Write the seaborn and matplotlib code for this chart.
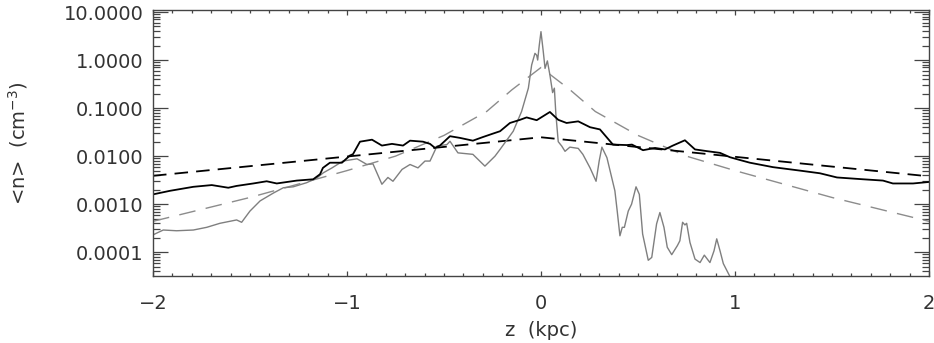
import matplotlib
matplotlib.use('Agg')
import matplotlib.pyplot as plt
import matplotlib.ticker as mticker
import seaborn as sns

# profile data: z in kpc, n in cm^-3
z_black = [-2.0, -1.912, -1.792, -1.697, -1.612, -1.569, -1.483, -1.414, -1.362, -1.259,
           -1.174, -1.139, -1.124, -1.088, -1.026, -0.985, -0.969, -0.933, -0.871, -0.82,
           -0.768, -0.711, -0.675, -0.608, -0.572, -0.546, -0.521, -0.469, -0.418, -0.351,
           -0.299, -0.247, -0.211, -0.16, -0.108, -0.074, -0.022, 0.046, 0.089, 0.132,
           0.192, 0.253, 0.304, 0.371, 0.443, 0.469, 0.526, 0.588, 0.639, 0.68,
           0.742, 0.794, 0.856, 0.923, 0.974, 1.026, 1.077, 1.196, 1.335, 1.438,
           1.526, 1.66, 1.763, 1.814, 1.918, 2.0]
n_black = [0.0016, 0.0019, 0.0023, 0.0025, 0.0022, 0.0024, 0.0027, 0.0030, 0.0027, 0.0031,
           0.0033, 0.0042, 0.0057, 0.0073, 0.0073, 0.0103, 0.011, 0.020, 0.022, 0.0166,
           0.018, 0.0166, 0.021, 0.020, 0.018, 0.0148, 0.0166, 0.026, 0.024, 0.021,
           0.025, 0.0295, 0.033, 0.049, 0.057, 0.064, 0.056, 0.083, 0.057, 0.049,
           0.053, 0.040, 0.036, 0.0174, 0.017, 0.0174, 0.0133, 0.0148, 0.0138, 0.0166,
           0.0214, 0.0138, 0.0127, 0.0117, 0.0095, 0.0083, 0.0073, 0.0059, 0.0050, 0.0044,
           0.0036, 0.0033, 0.0031, 0.0027, 0.0027, 0.0029]

z_gray = [-2.0, -1.947, -1.878, -1.792, -1.723, -1.655, -1.569, -1.543, -1.5, -1.448,
          -1.38, -1.328, -1.277, -1.208, -1.156, -1.122, -1.077, -1.021, -0.948, -0.897,
          -0.866, -0.82, -0.789, -0.763, -0.716, -0.675, -0.634, -0.598, -0.572, -0.536,
          -0.485, -0.469, -0.428, -0.351, -0.289, -0.237, -0.211, -0.143, -0.1, -0.065,
          -0.048, -0.031, -0.022, -0.017, -0.009, 0.0, 0.012, 0.021, 0.033, 0.046,
          0.06, 0.069, 0.077, 0.089, 0.107, 0.124, 0.149, 0.192, 0.216, 0.253,
          0.284, 0.3, 0.314, 0.34, 0.381, 0.393, 0.407, 0.419, 0.43, 0.45,
          0.467, 0.49, 0.507, 0.524, 0.553, 0.571, 0.596, 0.613, 0.634, 0.651,
          0.674, 0.703, 0.716, 0.73, 0.742, 0.751, 0.768, 0.794, 0.82, 0.842,
          0.871, 0.892, 0.906, 0.923, 0.94, 0.971, 1.0]
n_gray = [0.00023, 0.00029, 0.00028, 0.00029, 0.00033, 0.00040, 0.00047, 0.00042, 0.00072, 0.00117,
          0.0017, 0.0022, 0.0023, 0.0028, 0.0035, 0.0045, 0.0057, 0.0079, 0.0088, 0.0067,
          0.0069, 0.0026, 0.0036, 0.0030, 0.0053, 0.0067, 0.0057, 0.0079, 0.0079, 0.0162,
          0.0174, 0.0204, 0.0117, 0.0109, 0.0062, 0.010, 0.0138, 0.033, 0.085, 0.26,
          0.79, 1.38, 1.26, 1.0, 2.0, 3.9, 1.48, 0.67, 0.96, 0.49,
          0.21, 0.26, 0.073, 0.020, 0.0162, 0.0126, 0.0154, 0.0145, 0.0109, 0.0057,
          0.0030, 0.0079, 0.0154, 0.0093, 0.0019, 0.00072, 0.00022, 0.00033, 0.00033, 0.00072,
          0.0010, 0.0023, 0.0016, 0.00024, 0.000068, 0.000078, 0.00039, 0.00067, 0.00033, 0.000127,
          0.000089, 0.000137, 0.000173, 0.00042, 0.00037, 0.00040, 0.00016, 0.000072, 0.000061, 0.000087,
          0.000061, 0.000107, 0.00019, 0.000107, 0.000058, 0.000033, 0.000018]

# fitted profiles (dashed)
z_fit_black = [-2.0, 0.0, 2.0]
n_fit_black = [0.0039, 0.0247, 0.0038]

z_fit_gray = [-2.0, -1.5, -1.0, -0.75, -0.5, -0.28, -0.15, 0.0, 0.15, 0.28, 0.5, 0.75, 1.0, 1.5, 2.0]
n_fit_gray = [0.00044, 0.00138, 0.0050, 0.010, 0.027, 0.085, 0.24, 0.70, 0.24, 0.085, 0.027, 0.010, 0.0050, 0.00138, 0.00044]

y_ticks = [1e-4, 1e-3, 1e-2, 1e-1, 1.0, 10.0]
x_ticks = [-2, -1, 0, 1, 2]

sns.set_style('ticks')
plt.rcParams['font.family'] = ['DejaVu Sans']
txt = '#333333'

fig = plt.figure(figsize=(9.34, 3.43), dpi=100)
ax = fig.add_axes([0.1638, 0.1953, 0.8308, 0.7755])
ax.set_yscale('log')

sns.lineplot(x=z_fit_gray, y=n_fit_gray, ax=ax, color='#8c8c8c', lw=1.0,
             linestyle=(0, (12, 7.5)), estimator=None, sort=False)
sns.lineplot(x=z_fit_black, y=n_fit_black, ax=ax, color='black', lw=1.3,
             linestyle=(0, (7.5, 4.5)), estimator=None, sort=False)
sns.lineplot(x=z_gray, y=n_gray, ax=ax, color='#7f7f7f', lw=1.0, estimator=None, sort=False)
sns.lineplot(x=z_black, y=n_black, ax=ax, color='black', lw=1.3, estimator=None, sort=False)

ax.set_xlim(-2, 2)
ax.set_ylim(3.2e-5, 11)

ax.set_xticks(x_ticks)
ax.set_xticklabels([f'{t:d}'.replace('-', '\u2212') for t in x_ticks])
ax.xaxis.set_minor_locator(mticker.MultipleLocator(0.1))
ax.set_yticks(y_ticks)
ax.set_yticklabels([f'{t:.4f}' for t in y_ticks])
ax.yaxis.set_minor_locator(mticker.LogLocator(base=10, subs=range(2, 10), numticks=20))
ax.yaxis.set_minor_formatter(mticker.NullFormatter())

ax.tick_params(axis='both', which='both', direction='in', top=True, right=True,
               colors='#444444', labelcolor=txt, labelsize=14, width=0.9)
ax.tick_params(axis='y', which='major', length=11, pad=7)
ax.tick_params(axis='y', which='minor', length=5)
ax.tick_params(axis='x', which='major', length=3.6, pad=13)
ax.tick_params(axis='x', which='minor', length=2)

for s in ax.spines.values():
    s.set_color('#444444')
    s.set_linewidth(1.0)

ax.set_xlabel('z  (kpc)', fontsize=14, color=txt)
ax.set_ylabel('<n>  (cm$^{-3}$)', fontsize=14, color=txt)
ax.xaxis.set_label_coords(0.5, -0.17)
ax.yaxis.set_label_coords(-0.158, 0.5)

fig.savefig('out.png', dpi=100)
